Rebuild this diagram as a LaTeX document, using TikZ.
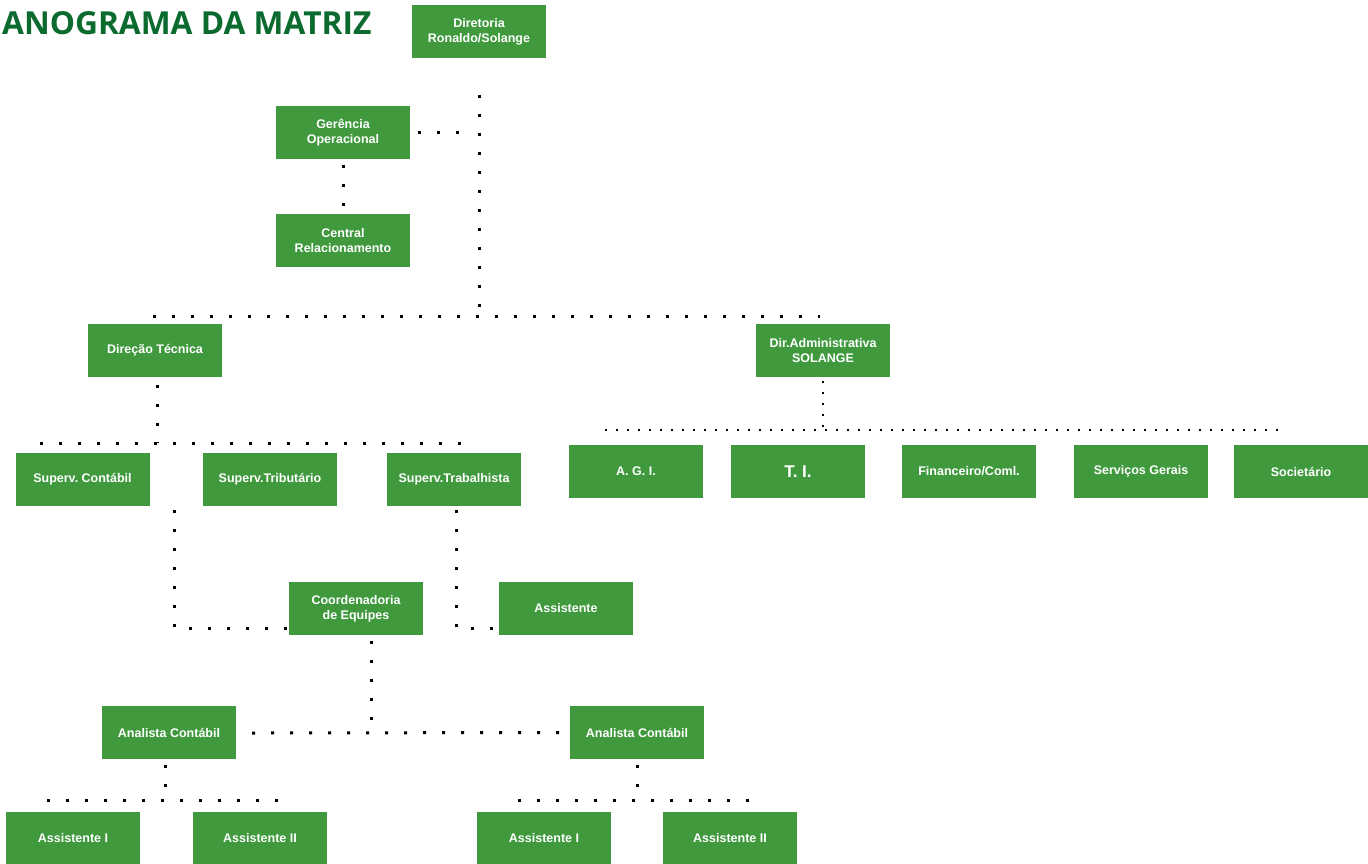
\documentclass[tikz,border=0pt]{standalone}
\usepackage{fontspec}
\setmainfont{Liberation Sans}
\newfontfamily\titlefont{Open Sans}
\frenchspacing
\definecolor{orgGreen}{HTML}{409A3D}
\definecolor{orgTitle}{HTML}{0B6B2F}
\tikzset{
  unit/.style={fill=orgGreen, minimum width=134pt, minimum height=53pt, inner sep=1pt,
    text=white, font=\bfseries\fontsize{12.5}{15}\selectfont, align=center},
  dotline/.style={line width=3pt, dash pattern=on 3pt off 16pt, black},
  finedot/.style={line width=2.6pt, dash pattern=on 1.6pt off 9.4pt, black},
}

\begin{document}
\begin{tikzpicture}[x=1pt, y=-1pt]
  \useasboundingbox (0,0) rectangle (1368,863);
  \node[anchor=base west, inner sep=0pt, text=orgTitle, font=\titlefont\bfseries\fontsize{31.7}{34}\selectfont] (title) at (2,34) {ANOGRAMA DA MATRIZ};

  % boxes
  \node[unit] (dir) at (479,31.5) {Diretoria\\Ronaldo/Solange};
  \node[unit] (gerop) at (343,132.5) {Gerência\\Operacional};
  \node[unit] (central) at (343,240.5) {Central\\Relacionamento};
  \node[unit] (dtec) at (155,350.5) {Direção Técnica};
  \node[unit] (dadm) at (823,350.5) {Dir.Administrativa\\SOLANGE};
  \node[unit] (scont) at (82.5,479.5) {Superv. Contábil};
  \node[unit] (strib) at (270,479.5) {Superv.Tributário};
  \node[unit] (strab) at (454,479.5) {Superv.Trabalhista};
  \node[unit] (agi) at (636,471.5) {A. G. I.};
  \node[unit, font=\bfseries\fontsize{17}{19}\selectfont] (ti) at (798,471.5) {T. I.};
  \node[unit] (fin) at (969,471.5) {Financeiro/Coml.};
  \node[unit] (serv) at (1141,471.5) {Serviços Gerais};
  \node[unit] (soc) at (1301,471.5) {Societário};
  \node[unit] (coord) at (356,608.5) {Coordenadoria\\de Equipes};
  \node[unit] (assist) at (566,608.5) {Assistente};
  \node[unit] (anaL) at (169,732.5) {Analista Contábil};
  \node[unit] (anaR) at (637,732.5) {Analista Contábil};
  \node[unit] (asL1) at (73,838) {Assistente I};
  \node[unit] (asL2) at (260,838) {Assistente II};
  \node[unit] (asR1) at (544,838) {Assistente I};
  \node[unit] (asR2) at (730,838) {Assistente II};

  % junctions
  \coordinate (topbusL) at (153,316);
  \coordinate (topbusR) at (820,316);
  \coordinate (tecbusL) at (40,443);
  \coordinate (tecbusR) at (474,443);
  \coordinate (admbusL) at (605,430);
  \coordinate (admbusR) at (1278,430);
  \coordinate (tribdown) at (174,510);
  \coordinate (tribcorner) at (174,628);
  \coordinate (trabcorner) at (456,628);
  \coordinate (anabusL) at (252,733);
  \coordinate (anaLbusL) at (47,800);
  \coordinate (anaLbusR) at (285,800);
  \coordinate (anaRbusL) at (518,800);
  \coordinate (anaRbusR) at (755,800);

  % connectors
  \draw[dotline] (479,95) -- (479,316);
  \draw[dotline] (topbusL) -- (topbusR);
  \draw[dotline] (gerop.east) ++(8,0) -- (460,132.5);
  \draw[dotline] (gerop.south) ++(0,6) -- (central.north);
  \draw[dotline] (dtec.south) ++(2,8) -- (157,443);
  \draw[dotline] (tecbusL) -- (tecbusR);
  \draw[dotline] (tribdown) -- (tribcorner) -- (coord.west |- tribcorner);
  \draw[dotline] (strab.south) ++(2,4) -- (trabcorner) -- (assist.west |- trabcorner);
  \draw[dotline] (coord.south) ++(15,6) -- (371,733);
  \draw[dotline] (anabusL) -- (anaR.west);
  \draw[dotline] (anaL.south) ++(-4,6) -- (165,800);
  \draw[dotline] (anaLbusL) -- (anaLbusR);
  \draw[dotline] (anaR.south) ++(0,6) -- (637,800);
  \draw[dotline] (anaRbusL) -- (anaRbusR);
  \draw[finedot] (dadm.south) ++(0,4) -- (823,430);
  \draw[finedot] (admbusL) -- (admbusR);
\end{tikzpicture}
\end{document}
